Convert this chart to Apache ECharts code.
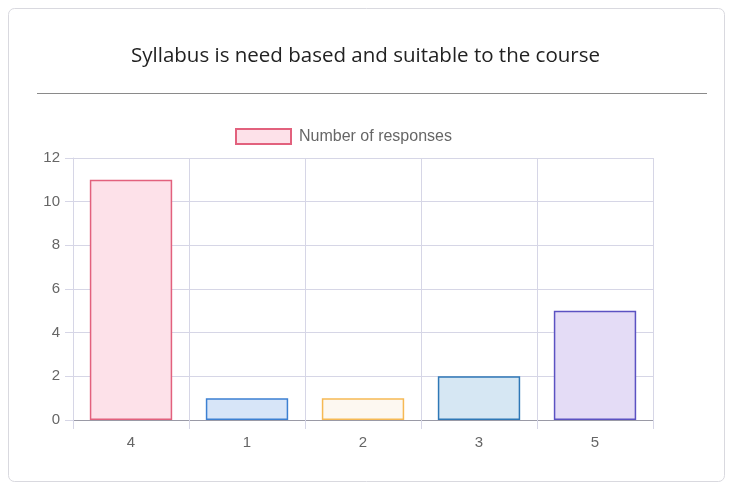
<!DOCTYPE html>
<html>
<head>
<meta charset="utf-8">
<script src="https://cdn.jsdelivr.net/npm/echarts@6/dist/echarts.min.js"></script>
<style>
html,body{margin:0;padding:0;background:#fff;}
#c{width:731px;height:488px;}
</style>
</head>
<body>
<div id="c"></div>
<script>
const titleText = "Syllabus is need based and suitable to the course";
const seriesName = "Number of responses";
const categories = ["4", "1", "2", "3", "5"];
const values = [11, 1, 1, 2, 5];
const fillColors = ["#fde1e9", "#d7e5f8", "#fdf8f1", "#d6e7f3", "#e4dcf6"];
const borderColors = ["#e2617d", "#3c80d2", "#f6b954", "#2f78b6", "#5b52c2"];
const yTicks = { min: 0, max: 12, interval: 2 };

const chart = echarts.init(document.getElementById('c'), null, { renderer: 'canvas' });
const titleFont = '"Open Sans", "Noto Sans", sans-serif';
const labelFont = '"Liberation Sans", Arial, sans-serif';
chart.setOption({
  animation: false,
  backgroundColor: '#fff',
  title: {
    text: titleText,
    left: 'center',
    top: 41,
    textStyle: { fontFamily: titleFont, fontSize: 20.5, fontWeight: 'normal', color: '#222' }
  },
  graphic: [
    { type: 'rect', shape: { x: 8.5, y: 8.5, width: 716, height: 473, r: 6 },
      style: { fill: 'none', stroke: '#d9d9df', lineWidth: 1 }, z: -1 },
    { type: 'line', shape: { x1: 37, y1: 93.5, x2: 707, y2: 93.5 },
      style: { stroke: '#8a8a8a', lineWidth: 1 } }
  ],
  legend: {
    top: 128,
    left: 235,
    padding: 0,
    itemWidth: 55,
    itemHeight: 15,
    itemGap: 10,
    icon: 'rect',
    textStyle: { fontFamily: labelFont, fontSize: 16, color: '#666', padding: [0, 0, 0, 3] },
    data: [seriesName]
  },
  grid: { left: 73, right: 78, top: 158, bottom: 68, containLabel: false },
  xAxis: {
    type: 'category',
    data: categories,
    boundaryGap: true,
    axisLine: { show: true, lineStyle: { color: '#9a9aa6', width: 1 } },
    axisTick: { show: true, length: 9, lineStyle: { color: '#d6d6e6' } },
    axisLabel: { margin: 15, fontFamily: labelFont, fontSize: 15, color: '#666' },
    splitLine: { show: true, lineStyle: { color: '#d6d6e6', width: 1 } }
  },
  yAxis: {
    type: 'value',
    min: yTicks.min,
    max: yTicks.max,
    interval: yTicks.interval,
    axisLine: { show: true, lineStyle: { color: '#d6d6e6' } },
    axisTick: { show: true, length: 8, lineStyle: { color: '#d6d6e6' } },
    axisLabel: { margin: 13, fontFamily: labelFont, fontSize: 15, color: '#666' },
    splitLine: { show: true, lineStyle: { color: '#d6d6e6', width: 1 } }
  },
  series: [{
    name: seriesName,
    type: 'bar',
    barWidth: '71%',
    itemStyle: { color: fillColors[0], borderColor: borderColors[0], borderWidth: 1.5 },
    data: values.map((v, i) => ({
      value: v,
      itemStyle: { color: fillColors[i], borderColor: borderColors[i], borderWidth: 1.5 }
    }))
  }]
});
</script>
</body>
</html>
